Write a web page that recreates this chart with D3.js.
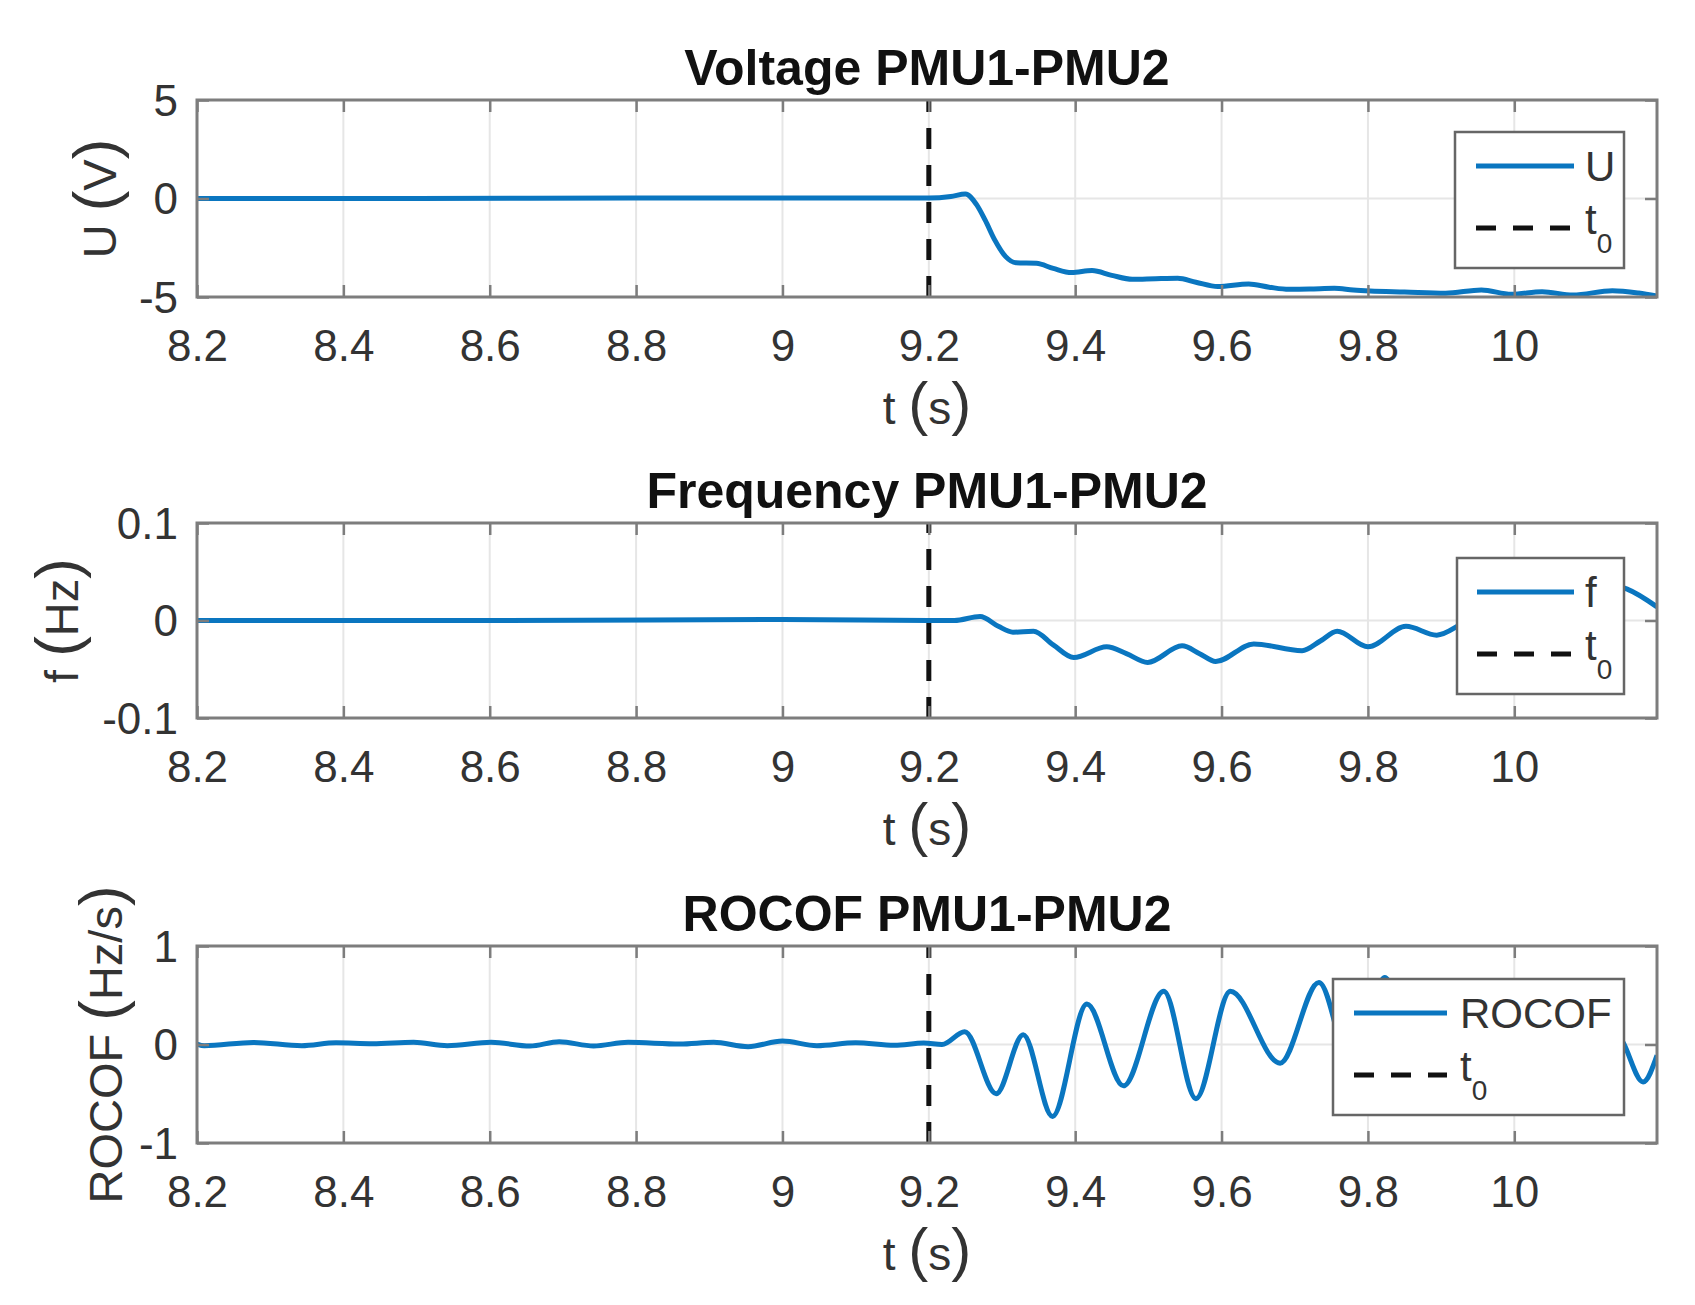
<!DOCTYPE html>
<html>
<head>
<meta charset="utf-8">
<script src="https://cdn.jsdelivr.net/npm/d3@7/dist/d3.min.js"></script>
<style>
  html, body { margin: 0; padding: 0; background: #fff; }
  svg { display: block; }
  text { font-family: "Liberation Sans", Arial, Helvetica, sans-serif; }
</style>
</head>
<body>
<svg id="chart" width="1695" height="1305"></svg>
<script>
// ---------------- DATA ----------------
const xTicks = [8.2, 8.4, 8.6, 8.8, 9, 9.2, 9.4, 9.6, 9.8, 10];
const xTickLabels = ["8.2", "8.4", "8.6", "8.8", "9", "9.2", "9.4", "9.6", "9.8", "10"];
const xDomain = [8.2, 10.195];
const t0 = 9.2;

const titles = ["Voltage PMU1-PMU2", "Frequency PMU1-PMU2", "ROCOF PMU1-PMU2"];
const yLabelMain = ["U", "f", "ROCOF"];
const yLabelUnit = ["V", "Hz", "Hz/s"];
const legendNames = ["U", "f", "ROCOF"];

const voltTicks = [-5, 0, 5];
const voltTickLabels = ["-5", "0", "5"];
const freqTicks = [-0.1, 0, 0.1];
const freqTickLabels = ["-0.1", "0", "0.1"];
const rocofTicks = [-1, 0, 1];
const rocofTickLabels = ["-1", "0", "1"];

const voltT = [8.2, 8.5, 8.8, 9.0, 9.2, 9.23, 9.25, 9.265, 9.277, 9.29, 9.305, 9.319, 9.347, 9.37, 9.395, 9.423, 9.45, 9.478, 9.51, 9.54, 9.565, 9.595, 9.637, 9.665, 9.692, 9.72, 9.754, 9.78, 9.803, 9.85, 9.906, 9.955, 9.996, 10.038, 10.08, 10.134, 10.17, 10.195];
const voltU = [0, 0, 0.02, 0.02, 0.02, 0.1, 0.23, -0.3, -1.1, -2.1, -2.95, -3.26, -3.29, -3.55, -3.76, -3.66, -3.9, -4.1, -4.07, -4.05, -4.25, -4.47, -4.34, -4.5, -4.61, -4.6, -4.56, -4.65, -4.7, -4.75, -4.81, -4.64, -4.86, -4.73, -4.9, -4.68, -4.8, -4.95];

const freqT = [8.2, 8.6, 9.0, 9.2, 9.235, 9.27, 9.295, 9.315, 9.343, 9.37, 9.398, 9.443, 9.47, 9.499, 9.546, 9.57, 9.592, 9.644, 9.71, 9.735, 9.758, 9.8, 9.852, 9.894, 9.929, 9.96, 10.0, 10.05, 10.09, 10.13, 10.155, 10.195];
const freqF = [0, 0, 0.001, 0, 0, 0.004, -0.006, -0.012, -0.011, -0.025, -0.038, -0.027, -0.034, -0.043, -0.026, -0.034, -0.042, -0.024, -0.031, -0.021, -0.011, -0.027, -0.006, -0.015, -0.003, 0.01, 0.012, 0.02, 0.024, 0.037, 0.032, 0.014];

const rocofT = [8.2, 8.21, 8.277, 8.343, 8.39, 8.44, 8.496, 8.542, 8.602, 8.655, 8.695, 8.742, 8.789, 8.86, 8.906, 8.953, 9.0, 9.047, 9.1, 9.153, 9.193, 9.218, 9.249, 9.292, 9.329, 9.369, 9.416, 9.466, 9.521, 9.565, 9.612, 9.68, 9.733, 9.78, 9.823, 9.875, 9.93, 9.98, 10.03, 10.075, 10.12, 10.148, 10.176, 10.195];
const rocofR = [0.005, -0.012, 0.02, -0.012, 0.018, 0.008, 0.022, -0.012, 0.022, -0.015, 0.028, -0.015, 0.022, 0.005, 0.022, -0.022, 0.035, -0.012, 0.018, -0.008, 0.015, 0.0, 0.13, -0.50, 0.10, -0.73, 0.41, -0.42, 0.54, -0.55, 0.54, -0.19, 0.63, -0.3, 0.68, -0.45, 0.5, -0.4, 0.4, -0.35, 0.3, 0.03, -0.38, -0.11];

// ---------------- LAYOUT ----------------
const plotLeft = 197, plotRight = 1657;
const panels = [
  { top: 100, bottom: 297, t: voltT, v: voltU, yDomain: [-5, 5], yTicks: voltTicks, yTickLabels: voltTickLabels,
    ylabelX: 116, leg: { x0: 1455, x1: 1624, top: 132, lx0: 1476, lx1: 1574, tx: 1585 } },
  { top: 523, bottom: 718, t: freqT, v: freqF, yDomain: [-0.1, 0.1], yTicks: freqTicks, yTickLabels: freqTickLabels,
    ylabelX: 78, leg: { x0: 1457, x1: 1624, top: 558, lx0: 1477, lx1: 1574, tx: 1585 } },
  { top: 946, bottom: 1143, t: rocofT, v: rocofR, yDomain: [-1, 1], yTicks: rocofTicks, yTickLabels: rocofTickLabels,
    ylabelX: 122, leg: { x0: 1333, x1: 1624, top: 979, lx0: 1354, lx1: 1447, tx: 1460 } }
];

const svg = d3.select("#chart");
const x = d3.scaleLinear().domain(xDomain).range([plotLeft, plotRight]);

const BLUE = "#0a76c0";
const AXIS = "#7d7d7d";
const TEXT = "#333333";
const GRID = "#e6e6e6";
const tickLen = 12;

panels.forEach((p, i) => {
  const y = d3.scaleLinear().domain(p.yDomain).range([p.bottom, p.top]);
  const g = svg.append("g");
  const clipId = "clip" + i;
  svg.append("clipPath").attr("id", clipId)
    .append("rect").attr("x", plotLeft).attr("y", p.top)
    .attr("width", plotRight - plotLeft).attr("height", p.bottom - p.top);

  // grid
  g.append("g").selectAll("line").data(xTicks).join("line")
    .attr("x1", d => x(d)).attr("x2", d => x(d))
    .attr("y1", p.top).attr("y2", p.bottom)
    .attr("stroke", GRID).attr("stroke-width", 2);
  g.append("g").selectAll("line").data(p.yTicks).join("line")
    .attr("x1", plotLeft).attr("x2", plotRight)
    .attr("y1", d => y(d)).attr("y2", d => y(d))
    .attr("stroke", GRID).attr("stroke-width", 2);

  // t0 dashed line (drawn from bottom to top)
  g.append("line")
    .attr("x1", x(t0)).attr("x2", x(t0))
    .attr("y1", y(p.yDomain[0])).attr("y2", y(p.yDomain[1]))
    .attr("stroke", "#111").attr("stroke-width", 5)
    .attr("stroke-dasharray", "21,16");

  // data line
  const data = p.t.map((t, k) => [t, p.v[k]]);
  const line = d3.line().x(d => x(d[0])).y(d => y(d[1])).curve(d3.curveMonotoneX);
  g.append("path").datum(data)
    .attr("clip-path", "url(#" + clipId + ")")
    .attr("d", line).attr("fill", "none")
    .attr("stroke", BLUE).attr("stroke-width", 5)
    .attr("stroke-linejoin", "round");

  // axes
  const styleAxis = (sel) => {
    sel.select(".domain").remove();
    sel.selectAll(".tick line").attr("stroke", AXIS).attr("stroke-width", 2.5);
    sel.selectAll(".tick text").attr("fill", TEXT)
      .style("font-family", '"Liberation Sans", Arial, sans-serif')
      .style("font-size", "44px");
  };
  const bottomAxis = d3.axisBottom(x).tickValues(xTicks)
    .tickFormat((d, k) => xTickLabels[k]).tickSizeInner(-tickLen).tickSizeOuter(0).tickPadding(33);
  g.append("g").attr("transform", `translate(0,${p.bottom})`).call(bottomAxis).call(styleAxis);
  const topAxis = d3.axisTop(x).tickValues(xTicks).tickFormat("").tickSizeInner(-tickLen).tickSizeOuter(0);
  g.append("g").attr("transform", `translate(0,${p.top})`).call(topAxis).call(styleAxis);
  const leftAxis = d3.axisLeft(y).tickValues(p.yTicks)
    .tickFormat((d, k) => p.yTickLabels[k]).tickSizeInner(-tickLen).tickSizeOuter(0).tickPadding(19);
  const la = g.append("g").attr("transform", `translate(${plotLeft},0)`).call(leftAxis).call(styleAxis);
  la.selectAll(".tick text").attr("dy", "0.35em");
  const rightAxis = d3.axisRight(y).tickValues(p.yTicks).tickFormat("").tickSizeInner(-tickLen).tickSizeOuter(0);
  g.append("g").attr("transform", `translate(${plotRight},0)`).call(rightAxis).call(styleAxis);

  // box
  g.append("rect").attr("x", plotLeft).attr("y", p.top)
    .attr("width", plotRight - plotLeft).attr("height", p.bottom - p.top)
    .attr("fill", "none").attr("stroke", AXIS).attr("stroke-width", 3);

  // title
  g.append("text").attr("x", (plotLeft + plotRight) / 2).attr("y", p.top - 15)
    .attr("text-anchor", "middle").attr("font-weight", "bold")
    .attr("font-size", 50).attr("fill", "#111").text(titles[i]);

  // x label  t (s)
  const xl = g.append("text").attr("x", (plotLeft + plotRight) / 2).attr("y", p.bottom + 127)
    .attr("text-anchor", "middle").attr("fill", TEXT).attr("font-size", 46);
  xl.append("tspan").text("t ");
  xl.append("tspan").attr("font-size", 60).text("(");
  xl.append("tspan").text("s");
  xl.append("tspan").attr("font-size", 60).text(")");

  // y label
  const cy = (p.top + p.bottom) / 2;
  const yl = g.append("text")
    .attr("transform", `translate(${p.ylabelX},${cy}) rotate(-90)`)
    .attr("text-anchor", "middle").attr("fill", TEXT).attr("font-size", 47);
  yl.append("tspan").text(yLabelMain[i] + " ");
  yl.append("tspan").attr("font-size", 62).text("(");
  yl.append("tspan").text(yLabelUnit[i]);
  yl.append("tspan").attr("font-size", 62).text(")");

  // legend
  const L = p.leg;
  const lg = g.append("g");
  lg.append("rect").attr("x", L.x0).attr("y", L.top)
    .attr("width", L.x1 - L.x0).attr("height", 136)
    .attr("fill", "#fff").attr("stroke", "#666").attr("stroke-width", 2.5);
  const r1 = L.top + 34, r2 = L.top + 96;
  lg.append("line").attr("x1", L.lx0).attr("x2", L.lx1).attr("y1", r1).attr("y2", r1)
    .attr("stroke", BLUE).attr("stroke-width", 5);
  lg.append("text").attr("x", L.tx).attr("y", r1 + 15).attr("font-size", 42).attr("fill", TEXT)
    .text(legendNames[i]);
  lg.append("line").attr("x1", L.lx0).attr("x2", L.lx1).attr("y1", r2).attr("y2", r2)
    .attr("stroke", "#111").attr("stroke-width", 5).attr("stroke-dasharray", "20,17");
  const tt = lg.append("text").attr("x", L.tx).attr("y", r2 + 6).attr("font-size", 42).attr("fill", TEXT);
  tt.append("tspan").text("t");
  tt.append("tspan").attr("font-size", 28).attr("dy", 19).text("0");
});
</script>
</body>
</html>
